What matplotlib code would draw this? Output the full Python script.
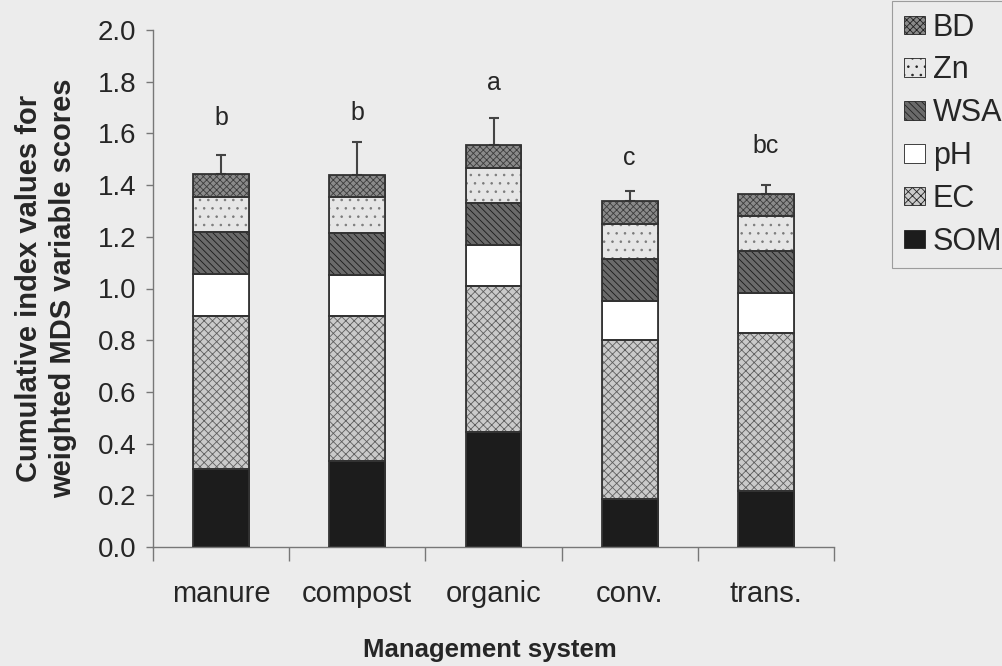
import numpy as np
import matplotlib.pyplot as plt

plt.rcParams['font.family'] = ['Liberation Sans', 'DejaVu Sans']
plt.rcParams['hatch.linewidth'] = 0.6

systems = ['manure', 'compost', 'organic', 'conv.', 'trans.']
# stacked component values (bottom to top)
som = [0.300, 0.334, 0.445, 0.186, 0.216]
ec = [0.594, 0.560, 0.565, 0.614, 0.612]
ph = [0.162, 0.158, 0.158, 0.152, 0.155]
wsa = [0.163, 0.163, 0.163, 0.162, 0.162]
zn = [0.135, 0.139, 0.135, 0.136, 0.135]
bd = [0.089, 0.085, 0.089, 0.089, 0.086]
err = [0.073, 0.128, 0.105, 0.038, 0.034]
letters = ['b', 'b', 'a', 'c', 'bc']
letter_y = [1.66, 1.68, 1.795, 1.505, 1.55]

W, H = 1003, 666
bg = '#ececec'
txt = '#262626'
fig = plt.figure(figsize=(W / 100, H / 100), dpi=100, facecolor=bg)
ax = fig.add_axes([153 / W, 1 - 547 / H, 681 / W, 517 / H], facecolor=bg)

x = np.arange(len(systems))
w = 0.41
styles = [
    ('SOM', som, '#1c1c1c', '', '#1c1c1c'),
    ('EC', ec, '#cacaca', 'xxxx', '#5e5e5e'),
    ('pH', ph, 'white', '', '#333333'),
    ('WSA', wsa, '#6a6a6a', '\\\\\\\\\\', '#1a1a1a'),
    ('Zn', zn, '#e6e6e6', '..', '#7a7a7a'),
    ('BD', bd, '#8a8a8a', 'xxxxx', '#3c3c3c'),
]
bottom = np.zeros(len(systems))
handles = []
for name, vals, fc, hatch, hc in styles:
    b = ax.bar(x, vals, w, bottom=bottom, color=fc, hatch=hatch,
               edgecolor=hc, linewidth=0.6, label=name, zorder=2)
    ax.bar(x, vals, w, bottom=bottom, color='none', edgecolor='#333333',
           linewidth=1.3, zorder=3)
    bottom += np.array(vals)
    handles.append(b)

ax.errorbar(x, bottom, yerr=[np.zeros(len(err)), err], fmt='none',
            ecolor='#444444', elinewidth=1.5, capsize=3.6, capthick=1.5, zorder=1)
for xi, lab, ly in zip(x, letters, letter_y):
    ax.text(xi, ly, lab, ha='center', va='center', fontsize=18, color=txt)

ax.set_xlim(-0.5, 4.5)
ax.set_ylim(0, 2.0)
yt = np.arange(0, 2.01, 0.2)
ax.set_yticks(yt)
ax.set_yticklabels(['%.1f' % v for v in yt])
ax.set_xticks(np.arange(-0.5, 4.6, 1.0))
ax.set_xticklabels([])
for xi, lab in zip(x, systems):
    ax.text(xi, -55 / 517, lab, transform=ax.get_xaxis_transform(),
            ha='center', va='baseline', fontsize=21, color=txt)
ax.tick_params(axis='x', length=10, width=1, color='#777777')
ax.tick_params(axis='y', length=5, width=1, color='#777777', labelsize=20,
               labelcolor=txt, pad=7)
for s in ['top', 'right']:
    ax.spines[s].set_visible(False)
for s in ['left', 'bottom']:
    ax.spines[s].set_color('#777777')
    ax.spines[s].set_linewidth(1.0)

fig.text(490 / W, 1 - 657 / H, 'Management system', ha='center', va='baseline',
         fontsize=18.5, fontweight='bold', color=txt)
fig.text(46 / W, 1 - 288 / H, 'Cumulative index values for\nweighted MDS variable scores',
         rotation=90, ha='center', va='center', fontsize=21, fontweight='bold',
         color=txt, linespacing=1.25)

leg = fig.legend(handles[::-1], [s[0] for s in styles][::-1],
                 loc='upper left', bbox_to_anchor=(892 / W, 1 - 1 / H), fontsize=22,
                 frameon=True, fancybox=False, handlelength=0.7, handleheight=0.55,
                 handletextpad=0.25, labelspacing=0.42, borderpad=0.38,
                 borderaxespad=0, labelcolor=txt)
leg.get_frame().set_edgecolor('#888888')
leg.get_frame().set_facecolor(bg)
leg.get_frame().set_linewidth(0.8)
for h in leg.legend_handles:
    h.set_edgecolor('#222222')

fig.savefig('out.png', dpi=100, facecolor=bg)
